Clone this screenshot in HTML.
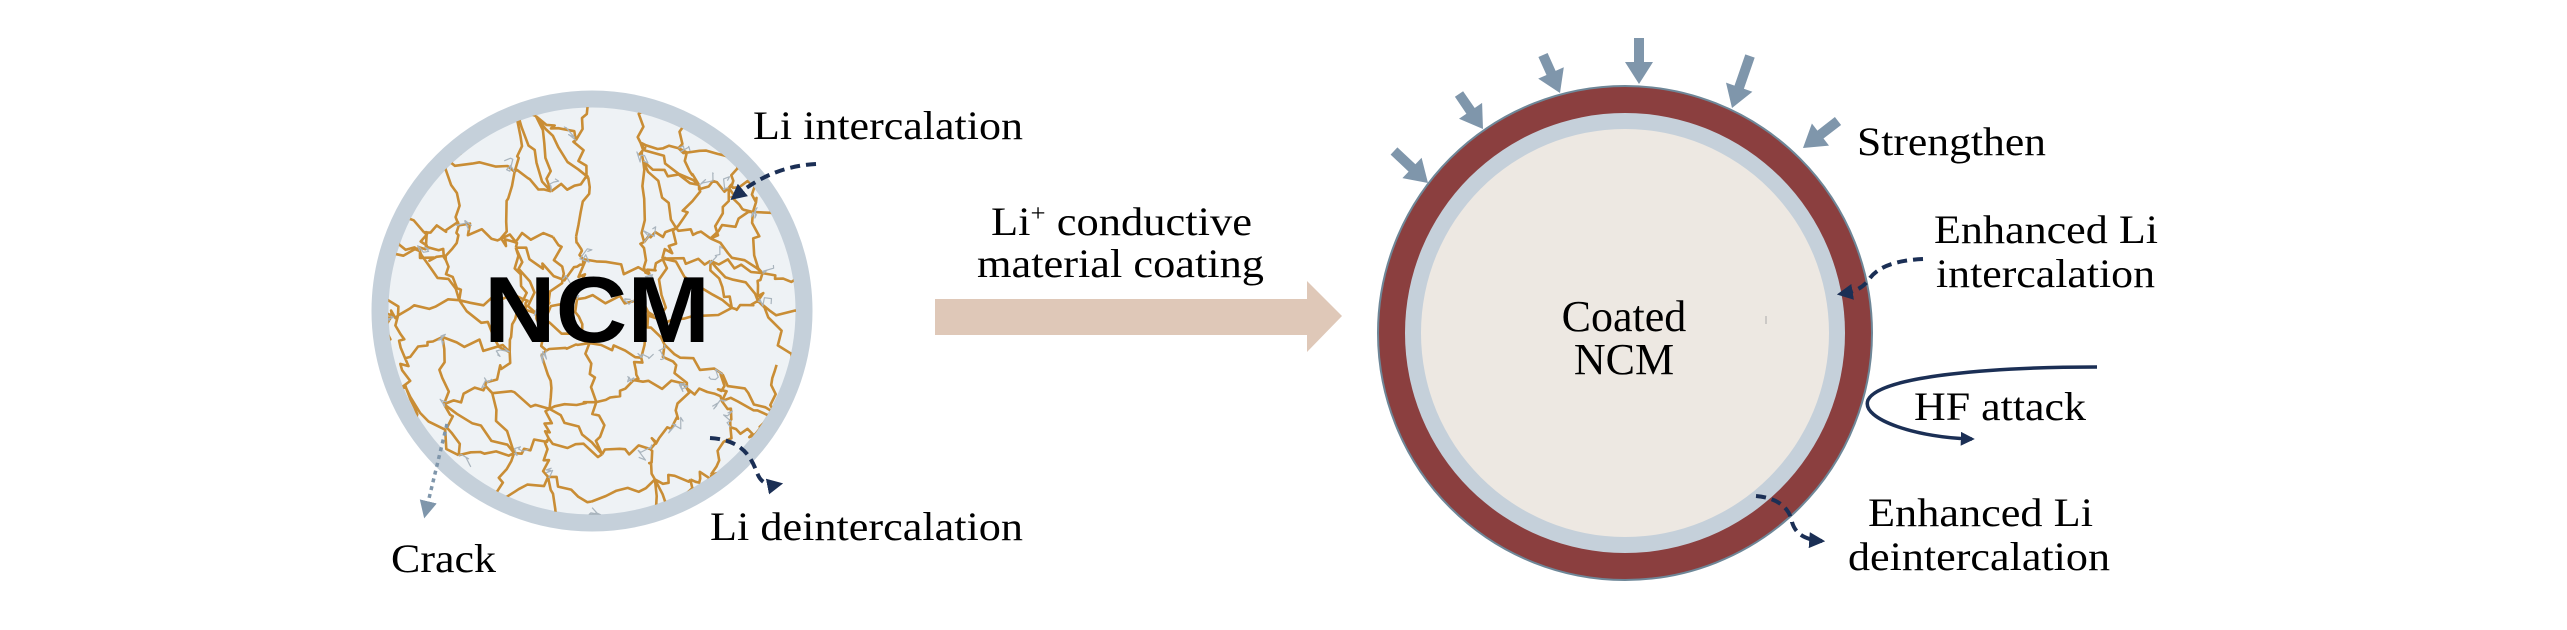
<!DOCTYPE html>
<html><head><meta charset="utf-8"><style>
html,body{margin:0;padding:0;background:#fff;}
svg{display:block;}
text{font-family:"Liberation Serif",serif;fill:#000;}
</style></head><body>
<svg id="s" width="2567" height="630" viewBox="0 0 2567 630" xmlns="http://www.w3.org/2000/svg">
<defs>
<clipPath id="cc"><circle cx="592" cy="311" r="204"/></clipPath>
<marker id="mh" viewBox="0 0 10 10" refX="8" refY="5" markerWidth="4" markerHeight="4" orient="auto"><path d="M0,0 L10,5 L0,10 Z" fill="#1b2f55"/></marker>
<marker id="mg" viewBox="0 0 10 10" refX="8" refY="5" markerWidth="5" markerHeight="5" orient="auto"><path d="M0,0 L10,5 L0,10 Z" fill="#7f96ab"/></marker>
</defs>
<!-- left particle -->
<circle cx="592" cy="311" r="212" fill="#eef2f5" stroke="#c5d0da" stroke-width="17"/>
<g id="cracks" clip-path="url(#cc)" fill="none" stroke="#c98d35" stroke-width="2.6" stroke-linejoin="round"></g>
<text x="484" y="342" font-weight="bold" font-size="94" textLength="226" lengthAdjust="spacingAndGlyphs" style="font-family:'Liberation Sans',sans-serif">NCM</text>

<text x="753" y="139" font-size="40" textLength="270" lengthAdjust="spacingAndGlyphs">Li intercalation</text>
<path d="M816,164 C780,166 755,180 733,198" fill="none" stroke="#1b2f55" stroke-width="4" stroke-dasharray="10,6" marker-end="url(#mh)"/>
<text x="710" y="540" font-size="40" textLength="313" lengthAdjust="spacingAndGlyphs">Li deintercalation</text>
<path d="M710,438 C745,440 752,460 758,475 C762,484 770,486 780,484" fill="none" stroke="#1b2f55" stroke-width="4" stroke-dasharray="10,6" marker-end="url(#mh)"/>
<text x="391" y="572" font-size="40" textLength="105" lengthAdjust="spacingAndGlyphs">Crack</text>
<path d="M447,424 L425,515" fill="none" stroke="#7f96ab" stroke-width="3.5" stroke-dasharray="4,4" marker-end="url(#mg)"/>

<!-- middle -->
<text x="991" y="235" font-size="40" textLength="261" lengthAdjust="spacingAndGlyphs">Li<tspan font-size="24" dy="-14">+</tspan><tspan dy="14"> conductive</tspan></text>
<text x="977" y="277" font-size="40" textLength="287" lengthAdjust="spacingAndGlyphs">material coating</text>
<path d="M935,299 L1307,299 L1307,281 L1342,316 L1307,352 L1307,335 L935,335 Z" fill="#dfc8b8"/>

<!-- right particle -->
<circle cx="1625" cy="333" r="247" fill="#8b3f3f" stroke="#6e8798" stroke-width="2"/>
<circle cx="1625" cy="333" r="220" fill="#c5d0da"/>
<circle cx="1625" cy="333" r="204" fill="#ede8e2"/>
<line x1="1766" y1="316" x2="1766" y2="324" stroke="#aaa" stroke-width="1"/>
<text x="1624" y="331" font-size="44" text-anchor="middle">Coated</text>
<text x="1624" y="374" font-size="44" text-anchor="middle">NCM</text>

<g id="barrows" fill="#7f96ab"></g>

<text x="1857" y="155" font-size="40" textLength="189" lengthAdjust="spacingAndGlyphs">Strengthen</text>
<text x="1934" y="243" font-size="40" textLength="224" lengthAdjust="spacingAndGlyphs">Enhanced Li</text>
<text x="1936" y="287" font-size="40" textLength="219" lengthAdjust="spacingAndGlyphs">intercalation</text>
<path d="M1923,259 C1900,260 1880,265 1870,278 C1862,290 1852,292 1840,294" fill="none" stroke="#1b2f55" stroke-width="4" stroke-dasharray="10,6" marker-end="url(#mh)"/>
<path d="M2097,367 C2000,367 1880,375 1868,400 C1860,420 1920,438 1972,439" fill="none" stroke="#1b2f55" stroke-width="3.5" marker-end="url(#mh)"/>
<text x="1914" y="420" font-size="40" textLength="172" lengthAdjust="spacingAndGlyphs">HF attack</text>
<text x="1868" y="526" font-size="40" textLength="225" lengthAdjust="spacingAndGlyphs">Enhanced Li</text>
<text x="1848" y="570" font-size="40" textLength="262" lengthAdjust="spacingAndGlyphs">deintercalation</text>
<path d="M1756,496 C1780,498 1790,510 1792,522 C1796,536 1808,540 1822,541" fill="none" stroke="#1b2f55" stroke-width="4" stroke-dasharray="10,6" marker-end="url(#mh)"/>
</svg>
<script>
(function(){
var NS="http://www.w3.org/2000/svg";
var arr=[[1394,151,1428,183],[1459,94,1483,129],[1543,55,1560,93],[1639,38,1639,84],[1750,56,1732,108],[1838,121,1803,148]];
var g=document.getElementById('barrows');
arr.forEach(function(a){
 var dx=a[2]-a[0],dy=a[3]-a[1],L=Math.sqrt(dx*dx+dy*dy),ux=dx/L,uy=dy/L,px=-uy,py=ux;
 var hl=22,sw=5,hw=14;
 var bx=a[2]-ux*hl,by=a[3]-uy*hl;
 var pts=[[a[0]+px*sw,a[1]+py*sw],[bx+px*sw,by+py*sw],[bx+px*hw,by+py*hw],[a[2],a[3]],[bx-px*hw,by-py*hw],[bx-px*sw,by-py*sw],[a[0]-px*sw,a[1]-py*sw]];
 var p=document.createElementNS(NS,'polygon');
 p.setAttribute('points',pts.map(function(q){return q[0].toFixed(1)+','+q[1].toFixed(1)}).join(' '));
 g.appendChild(p);
});
var seed=7;function r(){seed=(seed*16807)%2147483647;return seed/2147483647;}
var cg=document.getElementById('cracks');
var sp=44,cx=592,cy=311,N=11,P=[];
for(var i=-N;i<=N;i++){P[i+N]=[];for(var j=-N;j<=N;j++){P[i+N][j+N]=[cx+i*sp+(r()-.5)*sp*.9,cy+j*sp+(r()-.5)*sp*.9];}}
function jag(a,b){var s='M'+a[0].toFixed(1)+','+a[1].toFixed(1);var n=6;for(var k=1;k<n;k++){var t=k/n;s+=' L'+(a[0]+(b[0]-a[0])*t+(r()-.5)*11).toFixed(1)+','+(a[1]+(b[1]-a[1])*t+(r()-.5)*11).toFixed(1);}s+=' L'+b[0].toFixed(1)+','+b[1].toFixed(1);return s;}
var d='',d2='';
for(var i=0;i<2*N;i++)for(var j=0;j<2*N;j++){
 var p=P[i][j];if(Math.hypot(p[0]-cx,p[1]-cy)>260)continue;
 if(r()<.8)d+=jag(p,P[i+1][j]);
 if(r()<.8)d+=jag(p,P[i][j+1]);
 if(r()<.3)d+=jag(p,P[i+1][j+1]);
 if(r()<.5){var m=[p[0]+(r()-.5)*30,p[1]+(r()-.5)*30];d2+=jag(p,m);}
}
var pa=document.createElementNS(NS,'path');pa.setAttribute('d',d);cg.appendChild(pa);
var pb=document.createElementNS(NS,'path');pb.setAttribute('d',d2);pb.setAttribute('stroke','#a9b4bd');pb.setAttribute('stroke-width','1.2');cg.appendChild(pb);
})();
</script>
</body></html>
